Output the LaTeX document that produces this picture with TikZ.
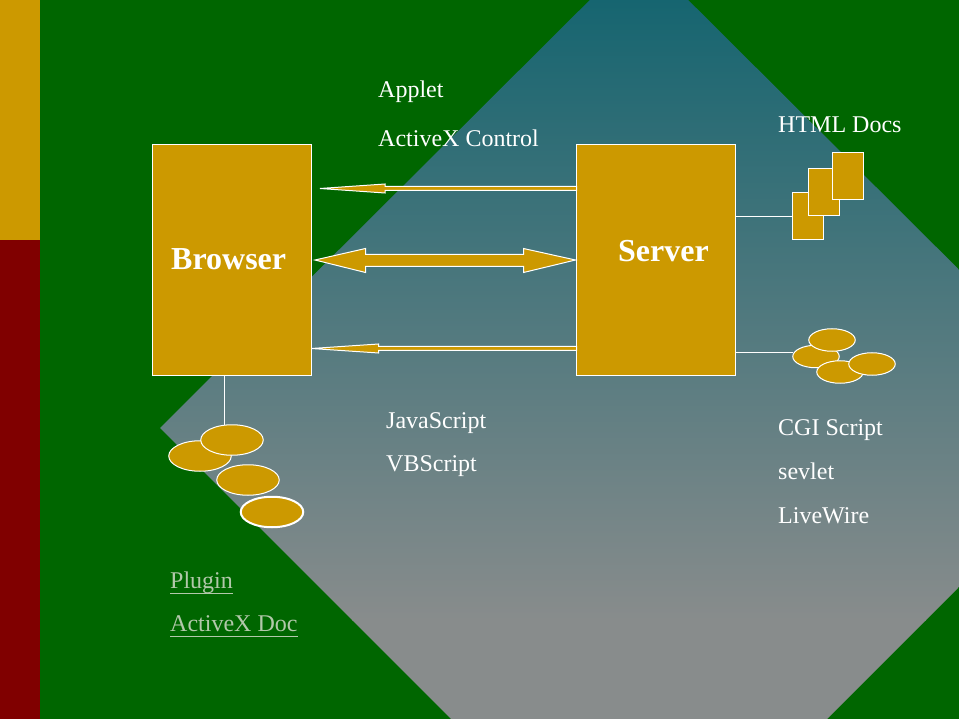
\documentclass[tikz,border=0pt]{standalone}
\usepackage{fontspec}
\usetikzlibrary{shapes.geometric}
\setmainfont{Liberation Serif}
\definecolor{bggreen}{RGB}{0,102,0}
\definecolor{gold}{RGB}{204,153,0}
\definecolor{barred}{RGB}{128,0,0}
\definecolor{gtop}{RGB}{22,101,112}
\definecolor{gbot}{RGB}{136,140,140}
\definecolor{paletxt}{RGB}{178,200,170}
\tikzset{
  box/.style={draw=white,fill=gold,line width=1pt,inner sep=0pt,outer sep=0pt,minimum width=159pt,minimum height=231pt},
  docbox/.style={box,minimum width=31pt,minimum height=47pt},
  blob/.style={ellipse,draw=white,fill=gold,line width=1pt,inner sep=0pt,outer sep=0pt,minimum width=46.5pt,minimum height=22.5pt},
  bigblob/.style={blob,minimum width=62.5pt,minimum height=30.5pt},
  blockarrow/.style={draw=white,fill=gold,line width=1pt,miter limit=10},
  wire/.style={draw=white,line width=1pt},
  lbl/.style={text=white,anchor=base west,inner sep=0pt,font=\fontsize{24}{24}\selectfont},
  bigl/.style={text=white,anchor=base west,inner sep=0pt,font=\fontsize{32}{32}\bfseries\selectfont},
  ulbl/.style={text=paletxt,anchor=base west,inner sep=0pt,font=\fontsize{24}{24}\selectfont},
  ubar/.style={draw=paletxt,line width=1pt}
}
\begin{document}
\begin{tikzpicture}[x=1pt,y=-1pt]
\useasboundingbox (0,0) rectangle (959,719);
\fill[bggreen] (0,0) rectangle (959,719);
\begin{scope}
\clip (0,0) rectangle (959,719);
\clip (639,-49) -- (1118,428) -- (639,907) -- (160,428) -- cycle;
\shade[top color=gtop,bottom color=gbot] (160,0) rectangle (959,620);
\fill[gbot] (160,619.5) rectangle (959,719);
\end{scope}
\fill[gold] (0,0) rectangle (40,240);
\fill[barred] (0,240) rectangle (40,719);
% boxes
\node[box] (browser) at (232,260) {};
\node[box] (server) at (656,260) {};
% documents and blobs
\node[docbox] (doc1) at (808,216) {};
\node[docbox] (doc2) at (824,192) {};
\node[docbox] (doc3) at (848,176) {};
\node[blob] (cgi1) at (816,356.5) {};
\node[blob] (cgi2) at (840,372) {};
\node[blob] (cgi3) at (832,340) {};
\node[blob] (cgi4) at (872,364) {};
\node[bigblob] (plug1) at (200,456) {};
\node[bigblob] (plug2) at (232,440) {};
\node[bigblob] (plug3) at (248,480) {};
\node[bigblob,line width=2pt] (plug4) at (272,512) {};
% wires
\coordinate (docend) at (792.5,216.5);
\coordinate (cgiend) at (793,352.5);
\coordinate (plugend) at (224.5,425);
\draw[wire] (browser.south -| plugend) -- (plugend);
\draw[wire] (server.east |- docend) -- (docend);
\draw[wire] (server.east |- cgiend) -- (cgiend);
% arrows
\draw[blockarrow] (320,188.5) -- (385,184) -- (385,186.5) -- (server.west |- 0,186.5) -- (server.west |- 0,190.5) -- (385,190.5) -- (385,193) -- cycle;
\draw[blockarrow] (315,260) -- (365.5,248.5) -- (365.5,254.5) -- (523.5,254.5) -- (523.5,248.5) -- (575.5,260) -- (523.5,272.5) -- (523.5,266.5) -- (365.5,266.5) -- (365.5,272.5) -- cycle;
\draw[blockarrow] (browser.east |- 0,348.5) -- (378.5,344) -- (378.5,346.5) -- (server.west |- 0,346.5) -- (server.west |- 0,350.5) -- (378.5,350.5) -- (378.5,353) -- cycle;
% text
\node[lbl] (t1) at (378,97.5) {Applet};
\node[lbl] (t2) at (378,146.5) {ActiveX Control};
\node[lbl] (t3) at (778,132.5) {HTML Docs};
\node[lbl] (t4) at (386,428.5) {JavaScript};
\node[lbl] (t5) at (386,471) {VBScript};
\node[lbl] (t6) at (778,435.5) {CGI Script};
\node[lbl] (t7) at (778,479) {sevlet};
\node[lbl] (t8) at (778,523) {LiveWire};
\node[bigl] (t9) at (171,269.5) {Browser};
\node[bigl] (t10) at (618,261.5) {Server};
\node[ulbl] (t11) at (170,588) {Plugin};
\node[ulbl] (t12) at (170,631) {ActiveX Doc};
\draw[ubar] (t11.base west |- 0,593.5) -- (t11.base east |- 0,593.5);
\draw[ubar] (t12.base west |- 0,636.5) -- (t12.base east |- 0,636.5);
\end{tikzpicture}
\end{document}
